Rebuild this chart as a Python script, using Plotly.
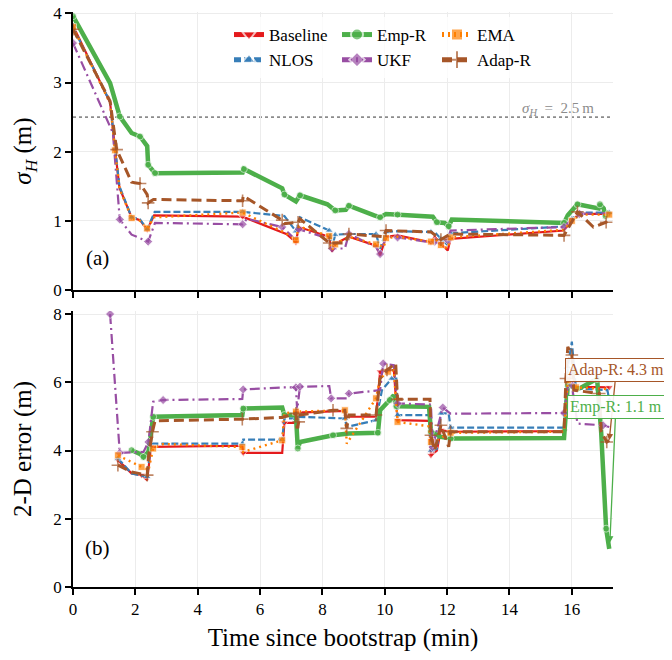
import plotly.graph_objects as go

# ---------------- data ----------------
SERIES = ["Baseline", "Emp-R", "EMA", "NLOS", "UKF", "Adap-R"]

# panel (a): sigma_H (m) vs time (min)
T_SIG_BASELINE = [0.0, 1.19, 1.35, 1.49, 1.88, 2.15, 2.38, 2.60, 5.44, 6.84, 7.15, 7.24, 8.22, 8.31, 8.41, 8.85, 9.72, 9.85, 10.04, 10.41, 11.48, 11.60, 11.80, 12.02, 12.11, 15.75, 16.00, 16.25, 17.20]
Y_SIG_BASELINE = [3.82, 2.71, 2.03, 1.48, 1.05, 1.01, 0.87, 1.08, 1.06, 0.81, 0.69, 0.91, 0.77, 0.55, 0.67, 0.77, 0.64, 0.50, 0.77, 0.79, 0.69, 0.77, 0.67, 0.57, 0.74, 0.86, 1.01, 1.10, 1.10]

T_SIG_EMPR = [0.0, 1.19, 1.50, 1.88, 2.15, 2.38, 2.41, 2.52, 2.63, 5.44, 5.48, 6.71, 6.78, 7.15, 7.28, 8.16, 8.41, 8.75, 8.85, 9.66, 9.85, 10.04, 10.41, 11.54, 11.67, 11.92, 12.05, 12.15, 15.75, 15.87, 16.18, 16.86, 16.90, 17.02, 17.08, 17.20]
Y_SIG_EMPR = [3.96, 2.99, 2.51, 2.27, 2.22, 2.08, 1.81, 1.74, 1.69, 1.70, 1.75, 1.47, 1.38, 1.28, 1.37, 1.24, 1.15, 1.16, 1.22, 1.08, 1.05, 1.10, 1.09, 1.06, 0.98, 0.97, 0.92, 1.02, 0.97, 1.08, 1.24, 1.18, 1.24, 1.18, 1.07, 1.13]

T_SIG_EMA = [0.0, 1.19, 1.35, 1.49, 1.88, 2.15, 2.38, 2.60, 5.44, 6.84, 7.15, 7.24, 8.22, 8.31, 8.41, 8.85, 9.72, 9.97, 10.04, 10.41, 11.48, 11.60, 11.80, 12.02, 12.11, 15.75, 16.00, 16.25, 17.20]
Y_SIG_EMA = [3.80, 2.70, 2.02, 1.47, 1.04, 1.00, 0.89, 1.05, 1.12, 0.82, 0.72, 0.92, 0.78, 0.58, 0.66, 0.77, 0.66, 0.62, 0.75, 0.77, 0.70, 0.75, 0.65, 0.60, 0.76, 0.87, 1.00, 1.09, 1.09]

T_SIG_NLOS = [0.0, 1.19, 1.35, 1.49, 1.88, 2.15, 2.38, 2.62, 5.44, 6.78, 7.15, 7.28, 8.22, 8.31, 8.41, 8.85, 9.72, 9.85, 10.04, 10.41, 11.48, 11.60, 11.80, 12.02, 12.11, 15.75, 16.00, 16.25, 17.20]
Y_SIG_NLOS = [3.80, 2.72, 2.05, 1.50, 1.05, 1.02, 0.88, 1.13, 1.13, 1.07, 0.85, 1.05, 0.86, 0.62, 0.80, 0.81, 0.81, 0.60, 0.84, 0.85, 0.84, 0.84, 0.74, 0.65, 0.82, 0.92, 1.03, 1.12, 1.12]

T_SIG_UKF = [0.0, 1.28, 1.50, 1.88, 2.41, 2.63, 5.44, 5.58, 6.71, 7.15, 7.24, 8.22, 8.31, 8.72, 8.85, 9.72, 9.85, 10.04, 10.41, 11.48, 11.60, 11.80, 12.02, 12.11, 15.75, 16.00, 16.25, 17.20]
Y_SIG_UKF = [3.57, 2.27, 1.02, 0.80, 0.70, 0.97, 0.95, 1.03, 0.91, 0.72, 0.88, 0.74, 0.60, 0.60, 0.81, 0.62, 0.52, 0.77, 0.76, 0.69, 0.70, 0.66, 0.72, 0.86, 0.91, 1.03, 1.10, 1.11]

T_SIG_ADAPR = [0.0, 1.19, 1.40, 1.88, 2.15, 2.38, 2.41, 2.58, 5.44, 5.46, 6.71, 6.78, 7.22, 7.28, 8.22, 8.72, 8.85, 9.97, 10.04, 11.48, 11.80, 12.11, 15.75, 16.00, 16.18, 16.69, 17.10, 17.20]
Y_SIG_ADAPR = [3.77, 2.73, 2.03, 1.56, 1.54, 1.38, 1.26, 1.31, 1.29, 1.36, 1.01, 0.96, 0.98, 1.03, 0.68, 0.68, 0.81, 0.77, 0.86, 0.84, 0.73, 0.81, 0.79, 0.98, 1.13, 0.91, 0.98, 1.05]

# panel (b): 2-D error (m) vs time (min)
T_ERR_BASELINE = [1.44, 1.88, 2.20, 2.38, 2.50, 5.43, 5.46, 6.71, 6.78, 7.15, 7.21, 8.72, 8.78, 9.72, 9.85, 10.29, 10.41, 11.42, 11.48, 11.67, 11.80, 12.11, 15.75, 15.87, 16.00, 16.13, 17.20]
Y_ERR_BASELINE = [3.72, 3.33, 3.28, 3.13, 4.11, 4.14, 3.93, 3.93, 4.81, 4.81, 5.11, 5.16, 4.99, 4.99, 6.31, 6.36, 4.89, 4.87, 3.86, 4.00, 4.60, 4.55, 4.57, 5.97, 6.40, 5.87, 5.85]

T_ERR_EMPR = [1.88, 2.13, 2.26, 2.42, 2.57, 5.43, 5.46, 6.71, 6.78, 7.15, 7.21, 7.28, 8.34, 8.85, 9.78, 9.85, 10.16, 10.29, 10.37, 11.42, 11.48, 11.80, 12.11, 15.75, 15.87, 16.20, 16.81, 16.94, 17.10, 17.20]
Y_ERR_EMPR = [4.01, 3.91, 3.81, 3.96, 4.99, 5.04, 5.23, 5.26, 5.04, 5.04, 4.06, 4.25, 4.45, 4.50, 4.52, 5.18, 5.48, 5.62, 5.30, 5.28, 4.55, 4.40, 4.35, 4.37, 5.92, 5.80, 6.10, 4.55, 1.71, 1.12]

T_ERR_EMA = [1.44, 1.88, 2.20, 2.42, 2.57, 2.89, 5.43, 5.46, 6.71, 6.78, 7.15, 8.34, 8.72, 8.78, 9.72, 9.85, 10.10, 10.29, 10.41, 11.42, 11.48, 11.67, 12.11, 15.75, 15.87, 16.06, 16.13, 17.20]
Y_ERR_EMA = [3.86, 3.67, 3.52, 3.42, 4.06, 4.19, 4.10, 3.96, 4.30, 5.09, 5.14, 5.18, 5.18, 4.20, 5.53, 6.11, 6.31, 6.36, 4.84, 4.71, 4.25, 4.30, 4.52, 4.55, 6.06, 6.06, 5.85, 5.80]

T_ERR_NLOS = [1.44, 1.88, 2.38, 2.50, 5.43, 5.46, 6.71, 6.78, 7.15, 7.21, 8.72, 8.78, 9.72, 9.91, 10.22, 10.37, 10.41, 11.42, 11.48, 11.67, 11.80, 12.05, 12.11, 15.75, 15.87, 16.00, 16.13, 17.14, 17.20]
Y_ERR_NLOS = [3.77, 3.33, 3.23, 4.20, 4.20, 4.32, 4.32, 4.94, 4.94, 4.99, 4.94, 4.69, 4.89, 5.77, 6.11, 6.11, 5.04, 5.04, 4.00, 4.05, 5.09, 5.09, 4.67, 4.67, 6.45, 7.19, 5.82, 5.77, 5.48]

T_ERR_UKF = [1.19, 1.48, 1.50, 2.26, 2.42, 2.57, 2.89, 5.43, 5.46, 6.75, 7.15, 7.19, 7.28, 8.22, 8.28, 8.78, 8.85, 9.85, 9.95, 10.29, 10.41, 11.48, 11.54, 11.63, 11.86, 12.11, 15.75, 15.87, 16.00, 16.18, 17.00, 17.20]
Y_ERR_UKF = [8.00, 4.10, 3.93, 3.96, 4.25, 5.43, 5.48, 5.51, 5.79, 5.85, 5.85, 5.18, 5.87, 5.89, 5.53, 5.53, 5.67, 5.77, 6.55, 6.50, 5.38, 5.35, 4.10, 4.45, 5.26, 5.08, 5.10, 5.87, 5.92, 4.79, 4.74, 4.69]

T_ERR_ADAPR = [1.44, 1.88, 2.38, 2.42, 2.55, 2.63, 5.43, 6.71, 7.15, 7.19, 7.24, 7.28, 8.34, 8.72, 8.78, 8.85, 9.72, 9.85, 10.07, 10.35, 10.41, 11.45, 11.48, 11.60, 11.80, 12.05, 12.11, 15.75, 15.81, 15.87, 16.00, 16.06, 16.88, 16.94, 17.12, 17.20]
Y_ERR_ADAPR = [3.57, 3.37, 3.28, 3.81, 4.55, 4.87, 4.92, 4.97, 5.09, 4.65, 4.84, 5.04, 5.18, 5.18, 4.65, 5.04, 5.04, 6.11, 6.36, 6.55, 5.50, 5.50, 4.45, 4.00, 4.74, 4.11, 4.55, 4.55, 6.11, 7.04, 6.80, 5.77, 5.67, 4.55, 4.25, 4.30]

SIGMA_THRESHOLD = 2.5
FINAL_ADAPR = 4.3
FINAL_EMPR = 1.1

SIG = {
    "Baseline": (T_SIG_BASELINE, Y_SIG_BASELINE),
    "Emp-R": (T_SIG_EMPR, Y_SIG_EMPR),
    "EMA": (T_SIG_EMA, Y_SIG_EMA),
    "NLOS": (T_SIG_NLOS, Y_SIG_NLOS),
    "UKF": (T_SIG_UKF, Y_SIG_UKF),
    "Adap-R": (T_SIG_ADAPR, Y_SIG_ADAPR),
}
ERR = {
    "Baseline": (T_ERR_BASELINE, Y_ERR_BASELINE),
    "Emp-R": (T_ERR_EMPR, Y_ERR_EMPR),
    "EMA": (T_ERR_EMA, Y_ERR_EMA),
    "NLOS": (T_ERR_NLOS, Y_ERR_NLOS),
    "UKF": (T_ERR_UKF, Y_ERR_UKF),
    "Adap-R": (T_ERR_ADAPR, Y_ERR_ADAPR),
}

# ---------------- styles ----------------
STYLE = {
    "Baseline": dict(color="#e41a1c", dash="solid", width=2.2, symbol="triangle-down", legend="legend"),
    "NLOS": dict(color="#377eb8", dash="7px,3px", width=2.2, symbol="triangle-up", legend="legend"),
    "Emp-R": dict(color="#4daf4a", dash="solid", width=4.5, symbol="circle", legend="legend2"),
    "UKF": dict(color="#984ea3", dash="10px,4px,2px,4px", width=2.2, symbol="diamond", legend="legend2"),
    "EMA": dict(color="#ff7f00", dash="2px,4px", width=2.4, symbol="square", legend="legend3"),
    "Adap-R": dict(color="#a65628", dash="10px,5px", width=3.0, symbol="cross-thin", legend="legend3"),
}
ORDER = ["Baseline", "NLOS", "Emp-R", "UKF", "EMA", "Adap-R"]
FONT = "Liberation Serif"
MSIZE = 7

# layout geometry (screen px); the page body adds an 8 px offset
OFF = 8
W, H = 672, 660
PL, PR, PT, PB = 73, 613, 12, 587          # plot-area edges on screen
ML, MT = PL - OFF, PT - OFF
MR = W - (PR - OFF)
MB = H - (PB - OFF)
PW = PR - PL
PH = PB - PT


def px_x(p):
    return (p - PL) / PW


def px_y(p):
    return (PB - p) / PH


def marker_for(name, n):
    st = STYLE[name]
    sizes = [MSIZE if (i % 2 == 0) else 0 for i in range(n)]
    if st["symbol"] == "cross-thin":
        sizes = [s + 2 if s else 0 for s in sizes]
        lw = [1.6 if s else 0 for s in sizes]
        return dict(symbol="cross-thin", size=sizes, color=st["color"],
                    line=dict(color=st["color"], width=lw))
    lw = [0.8 if s else 0 for s in sizes]
    return dict(symbol=st["symbol"], size=sizes, color=st["color"],
                line=dict(color="white", width=lw))


fig = go.Figure()
for name in ORDER:
    st = STYLE[name]
    t, y = SIG[name]
    fig.add_trace(go.Scatter(
        x=t, y=y, name=name, mode="lines+markers", xaxis="x", yaxis="y",
        line=dict(color=st["color"], dash=st["dash"], width=st["width"]),
        marker=marker_for(name, len(t)), legend=st["legend"], showlegend=True))
for name in ORDER:
    st = STYLE[name]
    t, y = ERR[name]
    fig.add_trace(go.Scatter(
        x=t, y=y, name=name, mode="lines+markers", xaxis="x2", yaxis="y2",
        line=dict(color=st["color"], dash=st["dash"], width=st["width"]),
        marker=marker_for(name, len(t)), showlegend=False))

# threshold line
fig.add_shape(type="line", xref="x domain", yref="y", x0=0, x1=1,
              y0=SIGMA_THRESHOLD, y1=SIGMA_THRESHOLD,
              line=dict(color="#8c8c8c", width=1.6, dash="dot"), layer="below")

axis_common = dict(
    showline=True, linecolor="black", linewidth=1.8, mirror=False,
    ticks="outside", ticklen=6, tickwidth=1.6, tickcolor="black",
    showgrid=True, gridcolor="#ececec", gridwidth=1, zeroline=False,
    automargin=False, ticklabeloverflow="allow",
    tickfont=dict(family=FONT, size=17, color="black"),
)
TITLE_SIZE = 25

fig.update_layout(
    width=W, height=H,
    margin=dict(l=ML, r=MR, t=MT, b=MB, autoexpand=False),
    paper_bgcolor="white", plot_bgcolor="white",
    font=dict(family=FONT, size=17, color="black"),
    xaxis=dict(axis_common, domain=[0, 1], anchor="y", range=[0, 17.32],
               dtick=2, tick0=0, showticklabels=False, matches="x2"),
    yaxis=dict(axis_common, domain=[px_y(290), 1], anchor="x", range=[0, 4.02],
               dtick=1, tick0=0,
               title=dict(text="<i>σ<sub>H</sub></i> (m)", font=dict(family=FONT, size=TITLE_SIZE), standoff=14)),
    xaxis2=dict(axis_common, domain=[0, 1], anchor="y2", range=[0, 17.32],
                dtick=2, tick0=0,
                title=dict(text="Time since bootstrap (min)", font=dict(family=FONT, size=TITLE_SIZE), standoff=10)),
    yaxis2=dict(axis_common, domain=[0, px_y(311)], anchor="x2", range=[0, 8.09],
                dtick=2, tick0=0,
                title=dict(text="2-D error (m)", font=dict(family=FONT, size=TITLE_SIZE), standoff=14)),
)

leg_common = dict(orientation="v", yanchor="top", xanchor="left",
                  bgcolor="rgba(255,255,255,0.8)", borderwidth=0,
                  font=dict(family=FONT, size=17, color="black"), itemwidth=30,
                  itemsizing="constant", tracegroupgap=0)
LEG_TOP = px_y(17)
fig.update_layout(
    legend=dict(leg_common, x=px_x(229), y=LEG_TOP),
    legend2=dict(leg_common, x=px_x(337), y=LEG_TOP),
    legend3=dict(leg_common, x=px_x(437), y=LEG_TOP),
)

annots = [
    dict(xref="paper", yref="y", x=px_x(596), y=SIGMA_THRESHOLD, xanchor="right", yanchor="middle",
         text="<i>σ<sub>H</sub></i>\u2002=\u20022.5\u2009m", showarrow=False,
         font=dict(family=FONT, size=15, color="#8c8c8c"), yshift=8),
    dict(xref="x", yref="y", x=0.8, y=0.47, text="(a)", showarrow=False,
         font=dict(family=FONT, size=21, color="black")),
    dict(xref="x2", yref="y2", x=0.8, y=1.14, text="(b)", showarrow=False,
         font=dict(family=FONT, size=21, color="black")),
    dict(xref="x2", yref="y2", x=17.2, y=FINAL_ADAPR,
         text=f"Adap-R: {FINAL_ADAPR:.1f} m", showarrow=True, axref="pixel", ayref="pixel",
         ax=7, ay=-70, arrowhead=2, arrowsize=1, arrowwidth=1.3, arrowcolor="#a65628",
         font=dict(family=FONT, size=16, color="#a65628"),
         bgcolor="rgba(255,255,255,0.9)", bordercolor="#a65628", borderwidth=1, borderpad=2),
    dict(xref="x2", yref="y2", x=17.22, y=1.3,
         text=f"Emp-R: {FINAL_EMPR:.1f} m", showarrow=True, axref="pixel", ayref="pixel",
         ax=6, ay=-136, arrowhead=2, arrowsize=1, arrowwidth=1.3, arrowcolor="#4daf4a",
         font=dict(family=FONT, size=16, color="#4daf4a"),
         bgcolor="rgba(255,255,255,0.9)", bordercolor="#4daf4a", borderwidth=1, borderpad=2),
]
fig.update_layout(annotations=annots)

fig.write_html("out.html")
